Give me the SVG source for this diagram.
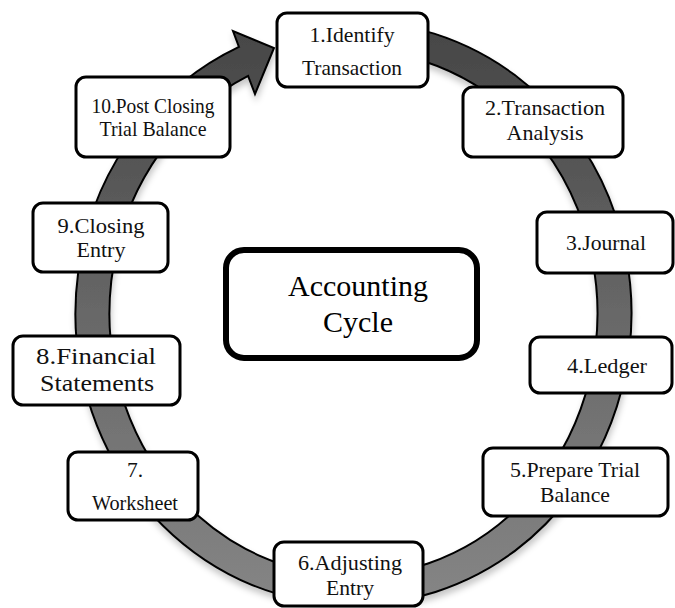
<svg xmlns="http://www.w3.org/2000/svg" width="675" height="608" viewBox="0 0 675 608">
  <style>
    .box { fill: #ffffff; stroke: #000000; stroke-width: 3; }
    .hub { fill: #ffffff; stroke: #000000; stroke-width: 6; }
    text { font-family: 'Liberation Serif', 'Times New Roman', serif; }
    .lbl { font-size: 21.5px; fill: #111111; text-anchor: middle; }
    .lbl-wide { font-size: 24px; fill: #111111; text-anchor: middle; }
    .title { font-size: 30px; fill: #000000; text-anchor: middle; }
    .ring { fill: url(#ringFill); stroke: #000000; stroke-width: 2; stroke-linejoin: miter; }
  </style>
  <defs>
    <linearGradient id="ringFill" gradientUnits="userSpaceOnUse" x1="0" y1="20" x2="0" y2="600">
      <stop offset="0" stop-color="#454545"/>
      <stop offset="0.5" stop-color="#676767"/>
      <stop offset="1" stop-color="#858585"/>
    </linearGradient>
    <filter id="softShadow" x="-10%" y="-10%" width="120%" height="120%">
      <feGaussianBlur in="SourceAlpha" stdDeviation="3"/>
      <feOffset dx="1" dy="5" result="blur"/>
      <feFlood flood-color="#000000" flood-opacity="0.22"/>
      <feComposite in2="blur" operator="in"/>
      <feMerge>
        <feMergeNode/>
        <feMergeNode in="SourceGraphic"/>
      </feMerge>
    </filter>
  </defs>

  <rect width="675" height="608" fill="#ffffff"/>

  <!-- circular flow arrow running clockwise round the steps -->
  <g id="connectors">
    <path class="ring" filter="url(#softShadow)"
      d="M 305.23 25.44
         A 278 292 0 1 1 238.96 46.93
         L 233 31
         L 274 48
         L 255 94
         L 248.09 75.80
         A 244 263 0 1 0 311.13 54.00
         Z"/>
  </g>

  <g id="node-hub">
    <rect class="hub" x="226" y="250" width="251" height="108" rx="18"/>
    <text class="title" x="358" y="296">Accounting</text>
    <text class="title" x="358" y="332">Cycle</text>
  </g>

  <g id="node-1">
    <rect class="box" x="277" y="13" width="151" height="74" rx="10"/>
    <text class="lbl" x="352" y="42" textLength="85" lengthAdjust="spacingAndGlyphs">1.Identify</text>
    <text class="lbl" x="352" y="75" textLength="100" lengthAdjust="spacingAndGlyphs">Transaction</text>
  </g>

  <g id="node-2">
    <rect class="box" x="463" y="87" width="160" height="70" rx="10"/>
    <text class="lbl" x="545" y="115" textLength="120" lengthAdjust="spacingAndGlyphs">2.Transaction</text>
    <text class="lbl" x="545" y="140" textLength="77" lengthAdjust="spacingAndGlyphs">Analysis</text>
  </g>

  <g id="node-3">
    <rect class="box" x="537" y="212" width="136" height="61" rx="10"/>
    <text class="lbl" x="606" y="250" textLength="80" lengthAdjust="spacingAndGlyphs">3.Journal</text>
  </g>

  <g id="node-4">
    <rect class="box" x="530" y="337" width="142" height="56" rx="10"/>
    <text class="lbl" x="607" y="373" textLength="80" lengthAdjust="spacingAndGlyphs">4.Ledger</text>
  </g>

  <g id="node-5">
    <rect class="box" x="483" y="448" width="185" height="68" rx="10"/>
    <text class="lbl" x="575" y="477" textLength="130" lengthAdjust="spacingAndGlyphs">5.Prepare Trial</text>
    <text class="lbl" x="575" y="502" textLength="70" lengthAdjust="spacingAndGlyphs">Balance</text>
  </g>

  <g id="node-6">
    <rect class="box" x="274" y="542" width="149" height="64" rx="10"/>
    <text class="lbl" x="350" y="570" textLength="104" lengthAdjust="spacingAndGlyphs">6.Adjusting</text>
    <text class="lbl" x="350" y="595" textLength="48" lengthAdjust="spacingAndGlyphs">Entry</text>
  </g>

  <g id="node-7">
    <rect class="box" x="68" y="452" width="130" height="68" rx="10"/>
    <text class="lbl" x="135" y="477">7.</text>
    <text class="lbl" x="135" y="510" textLength="86" lengthAdjust="spacingAndGlyphs">Worksheet</text>
  </g>

  <g id="node-8">
    <rect class="box" x="13" y="336" width="167" height="69" rx="10"/>
    <text class="lbl-wide" x="96" y="364" textLength="120" lengthAdjust="spacingAndGlyphs">8.Financial</text>
    <text class="lbl-wide" x="97" y="391" textLength="114" lengthAdjust="spacingAndGlyphs">Statements</text>
  </g>

  <g id="node-9">
    <rect class="box" x="33" y="203" width="135" height="69" rx="10"/>
    <text class="lbl" x="101" y="233" textLength="87" lengthAdjust="spacingAndGlyphs">9.Closing</text>
    <text class="lbl" x="101" y="257" textLength="49" lengthAdjust="spacingAndGlyphs">Entry</text>
  </g>

  <g id="node-10">
    <rect class="box" x="76" y="77" width="154" height="80" rx="10"/>
    <text class="lbl" x="153" y="113" textLength="123" lengthAdjust="spacingAndGlyphs">10.Post Closing</text>
    <text class="lbl" x="153" y="136" textLength="107" lengthAdjust="spacingAndGlyphs">Trial Balance</text>
  </g>
</svg>
